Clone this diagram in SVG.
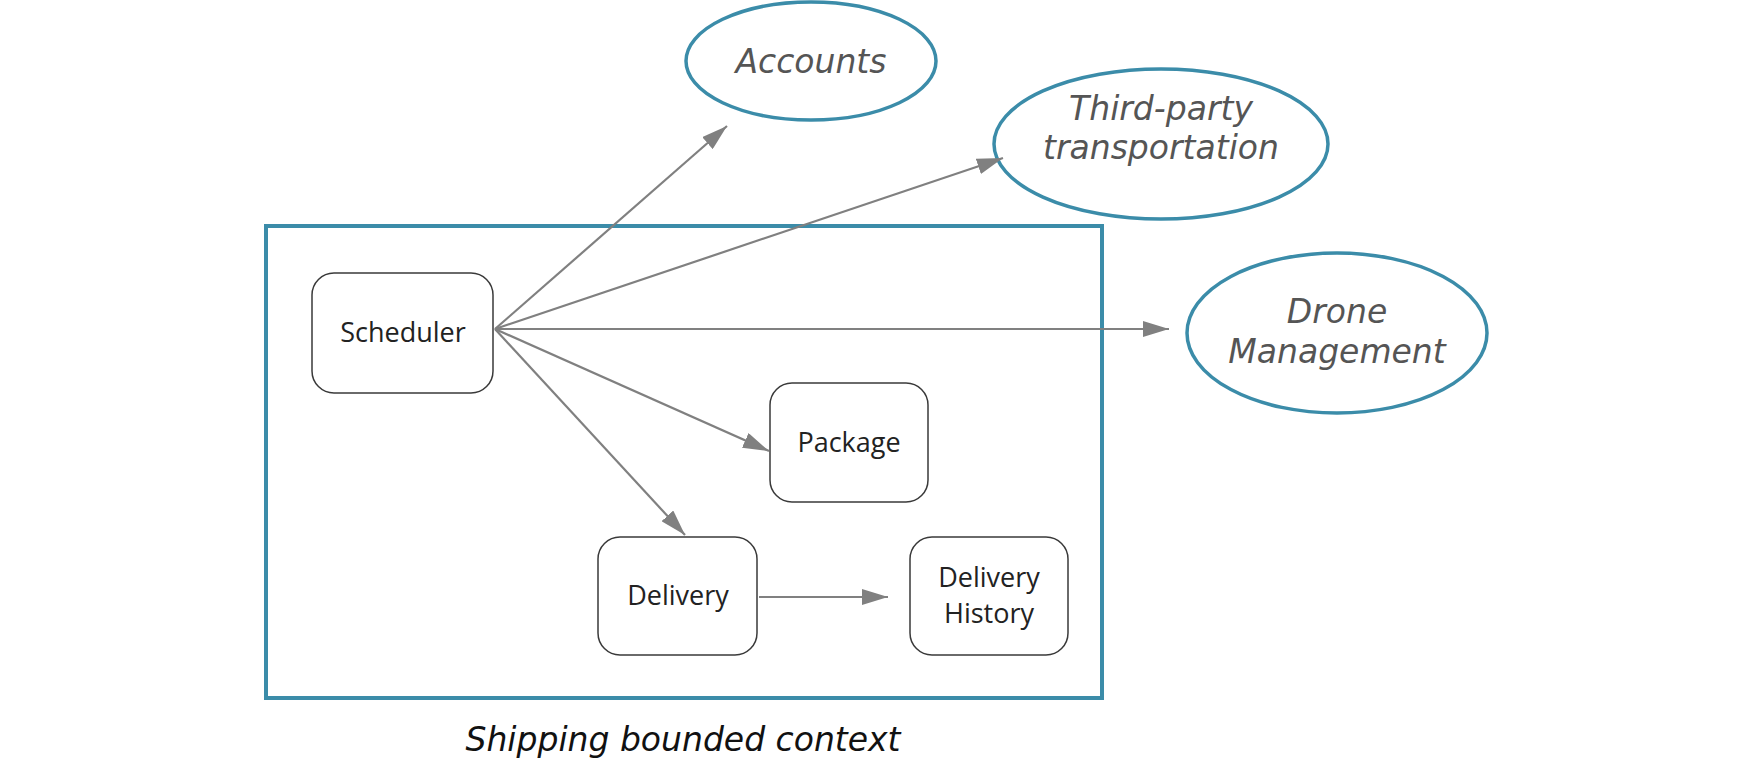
<svg xmlns="http://www.w3.org/2000/svg" width="1754" height="784" viewBox="0 0 1754 784">
<style>
.box{fill:#fff;stroke:#3a3a3a;stroke-width:1.5}
.ell{fill:#fff;stroke:#3b8ca9;stroke-width:3.5}
.lbl{font-family:"Open Sans","Noto Sans",sans-serif;font-size:27px;fill:#222;text-anchor:middle}
.hand{font-family:"DejaVu Sans",sans-serif;font-style:italic;font-size:33px;fill:#555;text-anchor:middle}
.conn{stroke:#808080;stroke-width:2.2;fill:none;marker-end:url(#ah)}
</style>
<defs>
<marker id="ah" markerUnits="userSpaceOnUse" markerWidth="26" markerHeight="16" refX="26" refY="8" orient="auto">
<path d="M0,0 L26,8 L0,16 Z" fill="#808080"/>
</marker>
</defs>
<rect width="1754" height="784" fill="#fff"/>
<g id="context">
<rect x="266" y="226" width="836" height="472" fill="none" stroke="#3b8ca9" stroke-width="4"/>
<text x="683" y="751" font-family="DejaVu Sans,sans-serif" font-style="italic" font-size="33" fill="#111" text-anchor="middle">Shipping bounded context</text>
</g>
<g id="accounts">
<ellipse class="ell" cx="811" cy="61" rx="125" ry="59"/>
<text class="hand" x="811" y="73">Accounts</text>
</g>
<g id="thirdparty">
<ellipse class="ell" cx="1161" cy="144" rx="167" ry="75"/>
<text class="hand" x="1161" y="120">Third-party</text>
<text class="hand" x="1161" y="159">transportation</text>
</g>
<g id="drone">
<ellipse class="ell" cx="1337" cy="333" rx="150" ry="80"/>
<text class="hand" x="1337" y="323">Drone</text>
<text class="hand" x="1337" y="363">Management</text>
</g>
<g id="scheduler">
<rect class="box" x="312" y="273" width="181" height="120" rx="22"/>
<text class="lbl" x="403" y="342">Scheduler</text>
</g>
<g id="package">
<rect class="box" x="770" y="383" width="158" height="119" rx="22"/>
<text class="lbl" x="849" y="452">Package</text>
</g>
<g id="delivery">
<rect class="box" x="598" y="537" width="159" height="118" rx="22"/>
<text class="lbl" x="678" y="605">Delivery</text>
</g>
<g id="history">
<rect class="box" x="910" y="537" width="158" height="118" rx="22"/>
<text class="lbl" x="989" y="587">Delivery</text>
<text class="lbl" x="989" y="623">History</text>
</g>
<g id="connectors">
<line class="conn" x1="495" y1="329" x2="727" y2="126"/>
<line class="conn" x1="495" y1="329" x2="1003" y2="158"/>
<line class="conn" x1="495" y1="329" x2="1169" y2="329"/>
<line class="conn" x1="495" y1="329" x2="769" y2="451"/>
<line class="conn" x1="495" y1="329" x2="685" y2="535"/>
<line class="conn" x1="759" y1="597" x2="888" y2="597"/>
</g>
</svg>
